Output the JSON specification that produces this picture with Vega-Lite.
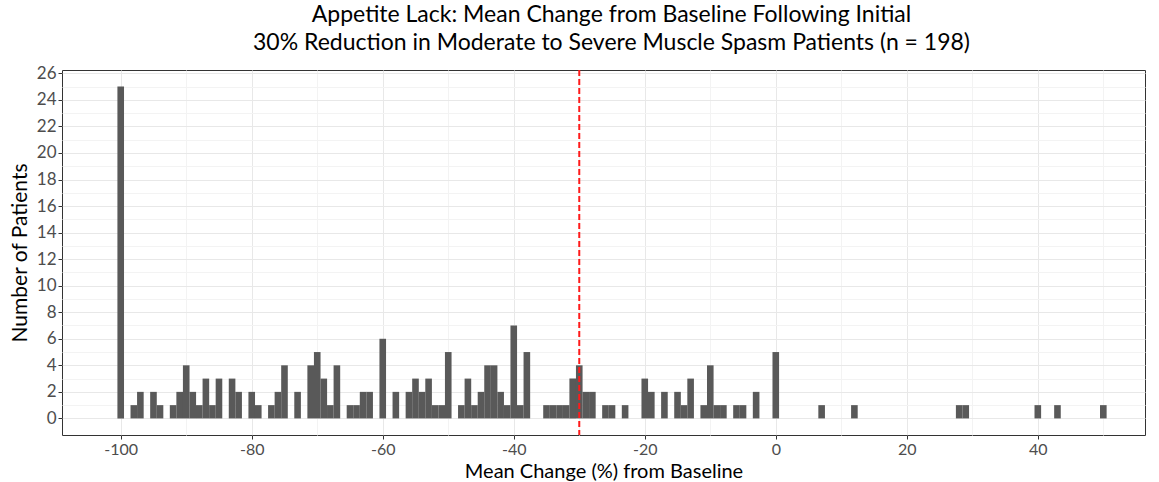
{
  "$schema": "https://vega.github.io/schema/vega-lite/v6.json",
  "width": 1083,
  "height": 365,
  "autosize": {"type": "none"},
  "padding": {"left": 62, "top": 70, "right": 14, "bottom": 47},
  "background": "white",
  "config": {
    "font": "Lato",
    "view": {"stroke": "#333333", "strokeWidth": 1}
  },
  "title": {
    "text": ["Appetite Lack: Mean Change from Baseline Following Initial", "30% Reduction in Moderate to Severe Muscle Spasm Patients (n = 198)"],
    "fontSize": 23,
    "fontWeight": "normal",
    "color": "black",
    "anchor": "middle",
    "frame": "group",
    "offset": 9,
    "lineHeight": 28,
    "dx": 8
  },
  "layer": [
    {
      "data": {
        "values": [
          {"change": -100, "patients": 25},
          {"change": -98, "patients": 1},
          {"change": -97, "patients": 2},
          {"change": -95, "patients": 2},
          {"change": -94, "patients": 1},
          {"change": -92, "patients": 1},
          {"change": -91, "patients": 2},
          {"change": -90, "patients": 4},
          {"change": -89, "patients": 2},
          {"change": -88, "patients": 1},
          {"change": -87, "patients": 3},
          {"change": -86, "patients": 1},
          {"change": -85, "patients": 3},
          {"change": -83, "patients": 3},
          {"change": -82, "patients": 2},
          {"change": -80, "patients": 2},
          {"change": -79, "patients": 1},
          {"change": -77, "patients": 1},
          {"change": -76, "patients": 2},
          {"change": -75, "patients": 4},
          {"change": -73, "patients": 2},
          {"change": -71, "patients": 4},
          {"change": -70, "patients": 5},
          {"change": -69, "patients": 3},
          {"change": -68, "patients": 1},
          {"change": -67, "patients": 4},
          {"change": -65, "patients": 1},
          {"change": -64, "patients": 1},
          {"change": -63, "patients": 2},
          {"change": -62, "patients": 2},
          {"change": -60, "patients": 6},
          {"change": -58, "patients": 2},
          {"change": -56, "patients": 2},
          {"change": -55, "patients": 3},
          {"change": -54, "patients": 2},
          {"change": -53, "patients": 3},
          {"change": -52, "patients": 1},
          {"change": -51, "patients": 1},
          {"change": -50, "patients": 5},
          {"change": -48, "patients": 1},
          {"change": -47, "patients": 3},
          {"change": -46, "patients": 1},
          {"change": -45, "patients": 2},
          {"change": -44, "patients": 4},
          {"change": -43, "patients": 4},
          {"change": -42, "patients": 2},
          {"change": -41, "patients": 1},
          {"change": -40, "patients": 7},
          {"change": -39, "patients": 1},
          {"change": -38, "patients": 5},
          {"change": -35, "patients": 1},
          {"change": -34, "patients": 1},
          {"change": -33, "patients": 1},
          {"change": -32, "patients": 1},
          {"change": -31, "patients": 3},
          {"change": -30, "patients": 4},
          {"change": -29, "patients": 2},
          {"change": -28, "patients": 2},
          {"change": -26, "patients": 1},
          {"change": -25, "patients": 1},
          {"change": -23, "patients": 1},
          {"change": -20, "patients": 3},
          {"change": -19, "patients": 2},
          {"change": -17, "patients": 2},
          {"change": -15, "patients": 2},
          {"change": -14, "patients": 1},
          {"change": -13, "patients": 3},
          {"change": -11, "patients": 1},
          {"change": -10, "patients": 4},
          {"change": -9, "patients": 1},
          {"change": -8, "patients": 1},
          {"change": -6, "patients": 1},
          {"change": -5, "patients": 1},
          {"change": -3, "patients": 2},
          {"change": 0, "patients": 5},
          {"change": 7, "patients": 1},
          {"change": 12, "patients": 1},
          {"change": 28, "patients": 1},
          {"change": 29, "patients": 1},
          {"change": 40, "patients": 1},
          {"change": 43, "patients": 1},
          {"change": 50, "patients": 1}
        ]
      },
      "mark": {"type": "bar", "width": 6.61, "color": "#595959"},
      "encoding": {
        "x": {
          "field": "change",
          "type": "quantitative",
          "scale": {"domain": [-108.2, 55.6], "nice": false, "zero": false},
          "axis": {
            "title": "Mean Change (%) from Baseline",
            "titleFontSize": 20,
            "titleFontWeight": "normal",
            "titleColor": "black",
            "titlePadding": 4,
            "values": [-100, -90, -80, -70, -60, -50, -40, -30, -20, -10, 0, 10, 20, 30, 40, 50],
            "labelExpr": "datum.value % 20 == 0 ? '' + datum.value : ''",
            "labelFontSize": 16,
            "labelColor": "#4D4D4D",
            "labelPadding": 2,
            "labelFlush": false,
            "labelOverlap": false,
            "tickSize": 4,
            "tickColor": {"condition": {"test": "datum.value % 20 != 0", "value": "transparent"}, "value": "#333333"},
            "domain": false,
            "grid": true,
            "gridColor": {"condition": {"test": "datum.value % 20 != 0", "value": "#F3F3F3"}, "value": "#E8E8E8"},
            "gridWidth": 1
          }
        },
        "y": {
          "field": "patients",
          "type": "quantitative",
          "scale": {"domain": [-1.25, 26.25], "nice": false, "zero": false},
          "axis": {
            "title": "Number of Patients",
            "titleFontSize": 21,
            "titleFontWeight": "normal",
            "titleColor": "black",
            "titlePadding": 6,
            "values": [0, 1, 2, 3, 4, 5, 6, 7, 8, 9, 10, 11, 12, 13, 14, 15, 16, 17, 18, 19, 20, 21, 22, 23, 24, 25, 26],
            "labelExpr": "datum.value % 2 == 0 ? '' + datum.value : ''",
            "labelFontSize": 17,
            "labelColor": "#4D4D4D",
            "labelPadding": 2,
            "labelFlush": false,
            "labelOverlap": false,
            "tickSize": 4,
            "tickColor": {"condition": {"test": "datum.value % 2 != 0", "value": "transparent"}, "value": "#333333"},
            "domain": false,
            "grid": true,
            "gridColor": {"condition": {"test": "datum.value % 2 != 0", "value": "#F3F3F3"}, "value": "#E8E8E8"},
            "gridWidth": 1
          }
        }
      }
    },
    {
      "data": {"values": [{"cutoff": -30}]},
      "mark": {"type": "rule", "color": "#FF1A1A", "strokeDash": [6, 3], "strokeWidth": 2},
      "encoding": {"x": {"field": "cutoff", "type": "quantitative"}}
    }
  ]
}
